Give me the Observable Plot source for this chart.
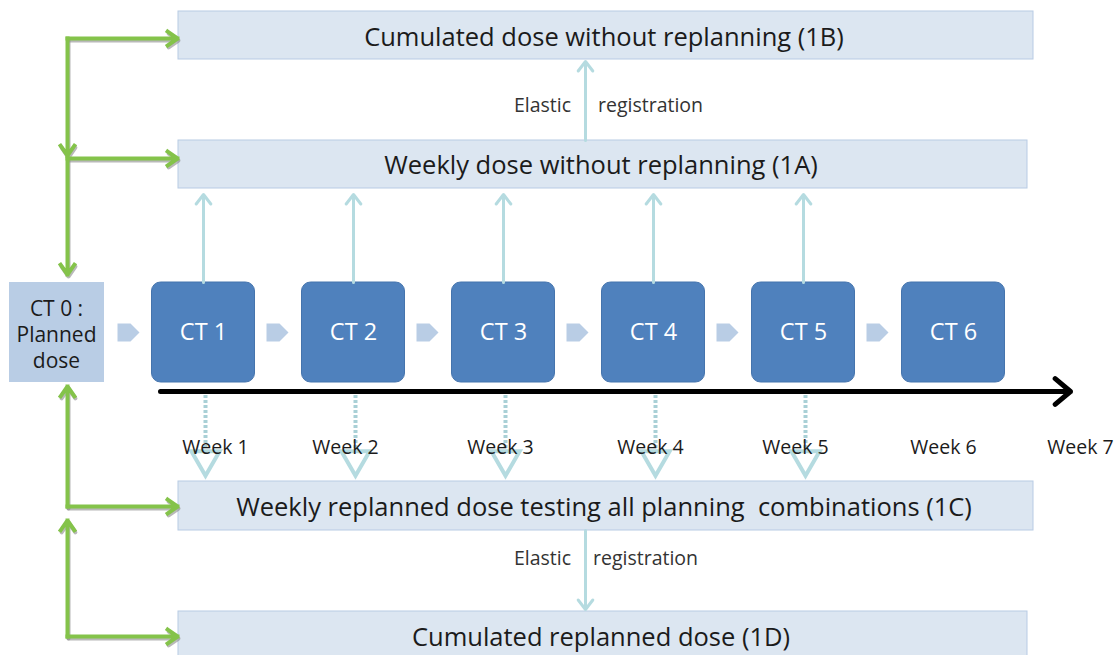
<!DOCTYPE html>
<html>
<head>
<meta charset="utf-8">
<script src="https://cdn.jsdelivr.net/npm/d3@7"></script>
<script src="https://cdn.jsdelivr.net/npm/@observablehq/plot@0.6"></script>
<style>
  html, body { margin: 0; padding: 0; background: #ffffff; }
  #chart svg { display: block; }
</style>
</head>
<body>
<div id="chart"></div>
<script>
// ---- Data (content of the diagram) ----
const ctLabels = ["CT 1", "CT 2", "CT 3", "CT 4", "CT 5", "CT 6"];
const ct0Lines = ["CT 0 :", "Planned", "dose"];
const weekLabels = ["Week 1", "Week 2", "Week 3", "Week 4", "Week 5", "Week 6", "Week 7"];
const doseLabels = [
  "Cumulated dose without replanning (1B)",
  "Weekly dose without replanning (1A)",
  "Weekly replanned dose testing all planning  combinations (1C)",
  "Cumulated replanned dose (1D)"
];
const regLabels = ["Elastic", "registration"];

// ---- Layout (diagram coordinates) ----
const colX = i => 203 + 150 * i;            // CT box centres
const ctTop = 282, ctBottom = 382, ctHalf = 51.5;
const doseRows = [
  {y1: 11, y2: 59, x2: 1033, ty: 37},
  {y1: 140, y2: 188, x2: 1027, ty: 165},
  {y1: 481, y2: 530, x2: 1033, ty: 507},
  {y1: 611, y2: 662, x2: 1027, ty: 637}
];
const weekX = [215, 345, 500, 650, 795, 943, 1080];
const greenX = 67;

const ctData = ctLabels.map((label, i) => ({label, x: colX(i)}));
const doseData = doseLabels.map((label, i) => ({label, ...doseRows[i], x1: 178}));
const weekData = weekLabels.map((label, i) => ({label, x: weekX[i]}));
const chevrons = [128, ...ctLabels.slice(0, 5).map((d, i) => colX(i) + 74)].map(x => ({x}));

const upArrows = ctData.slice(0, 5).map(d => ({x: d.x}));
const downArrows = ctData.slice(0, 5).map(d => ({x: d.x + 2}));

const greenArrows = [
  {x1: greenX, y1: 38, x2: 177, y2: 38},
  {x1: greenX, y1: 38, x2: greenX, y2: 155},
  {x1: greenX, y1: 158, x2: 177, y2: 158},
  {x1: greenX, y1: 158, x2: greenX, y2: 274},
  {x1: greenX, y1: 506, x2: greenX, y2: 386},
  {x1: greenX, y1: 506, x2: 177, y2: 506},
  {x1: greenX, y1: 636, x2: greenX, y2: 520},
  {x1: greenX, y1: 636, x2: 177, y2: 636}
];

const regArrows = [
  {x1: 585, y1: 140, x2: 585, y2: 61, ty: 105},
  {x1: 585, y1: 530, x2: 585, y2: 609, ty: 558}
];
const regText = regArrows.flatMap(a => [
  {label: regLabels[0], x: 542, y: a.ty},
  {label: regLabels[1], x: a.ty < 300 ? 650 : 645, y: a.ty}
]);

// Block-arrow (chevron) symbol
const blockArrow = {
  draw(ctx) {
    ctx.moveTo(-11, -9);
    ctx.lineTo(2, -9);
    ctx.lineTo(11, 0);
    ctx.lineTo(2, 9);
    ctx.lineTo(-11, 9);
    ctx.closePath();
  }
};

const font = "'Open Sans', Lato, sans-serif";
const textColor = "#1b1b1b";

const chart = Plot.plot({
  width: 1120,
  height: 655,
  margin: 0,
  style: {background: "#ffffff", fontFamily: font},
  x: {domain: [0, 1120], range: [0, 1120], axis: null},
  y: {domain: [0, 655], range: [0, 655], axis: null},
  marks: [
    // dose boxes
    Plot.rect(doseData, {x1: "x1", x2: "x2", y1: "y1", y2: "y2", fill: "#dce6f1", stroke: "#b8cbe4", strokeWidth: 1}),
    Plot.text(doseData, {x: d => (d.x1 + d.x2) / 2 - 2, y: "ty", text: "label", fontSize: 25.5, fill: textColor, fontFamily: font}),

    // CT0 box
    Plot.rect([{}], {x1: 9, x2: 104, y1: ctTop, y2: ctBottom, fill: "#b9cde5"}),
    Plot.text([ct0Lines.join("\n")], {x: 56, y: 333, text: d => d, fontSize: 21, lineHeight: 1.24, fill: textColor, fontFamily: font}),

    // chevrons
    Plot.dot(chevrons, {x: "x", y: 332, symbol: blockArrow, fill: "#b9cde5", stroke: null}),

    // CT boxes
    Plot.rect(ctData, {x1: d => d.x - ctHalf, x2: d => d.x + ctHalf, y1: ctTop, y2: ctBottom, rx: 9, fill: "#4f81bd", stroke: "#4574ad", strokeWidth: 1}),
    Plot.text(ctData, {x: "x", y: 332, text: "label", fontSize: 23.5, fill: "#ffffff", fontFamily: font}),

    // up arrows to 1A
    Plot.arrow(upArrows, {x1: "x", x2: "x", y1: ctTop, y2: 194, stroke: "#b5dbe0", strokeWidth: 3, headLength: 6, headAngle: 75}),

    // elastic registration arrows
    Plot.arrow(regArrows, {x1: "x1", y1: "y1", x2: "x2", y2: "y2", stroke: "#b5dbe0", strokeWidth: 3, headLength: 6, headAngle: 75}),
    Plot.text(regText, {x: "x", y: "y", text: "label", fontSize: 19.5, fill: "#333333", fontFamily: font}),

    // timeline
    Plot.arrow([{}], {x1: 160, y1: 391, x2: 1070, y2: 391, stroke: "#000000", strokeWidth: 5, headLength: 6, headAngle: 80}),

    // dotted down arrows
    Plot.ruleX(downArrows, {x: "x", y1: 395, y2: 458, stroke: "#a9d0d6", strokeWidth: 4, strokeDasharray: "3,2"}),
    Plot.dot(downArrows, {x: "x", y: 459, symbol: "triangle", rotate: 180, r: 10.5, fill: "#ffffff", stroke: "#b5dbe0", strokeWidth: 4}),

    // week labels
    Plot.text(weekData, {x: "x", y: 447, text: "label", fontSize: 19.5, fill: textColor, fontFamily: font}),

    // green connectors (shadow + line)
    Plot.arrow(greenArrows, {x1: "x1", y1: "y1", x2: "x2", y2: "y2", stroke: "#8a8a8a", strokeOpacity: 0.6, strokeWidth: 4, headLength: 4.5, headAngle: 70, dx: 1, dy: 2}),
    Plot.arrow(greenArrows, {x1: "x1", y1: "y1", x2: "x2", y2: "y2", stroke: "#84c34a", strokeWidth: 4, headLength: 4.5, headAngle: 70, strokeLinecap: "square"})
  ]
});

document.getElementById("chart").appendChild(chart);
</script>
</body>
</html>
